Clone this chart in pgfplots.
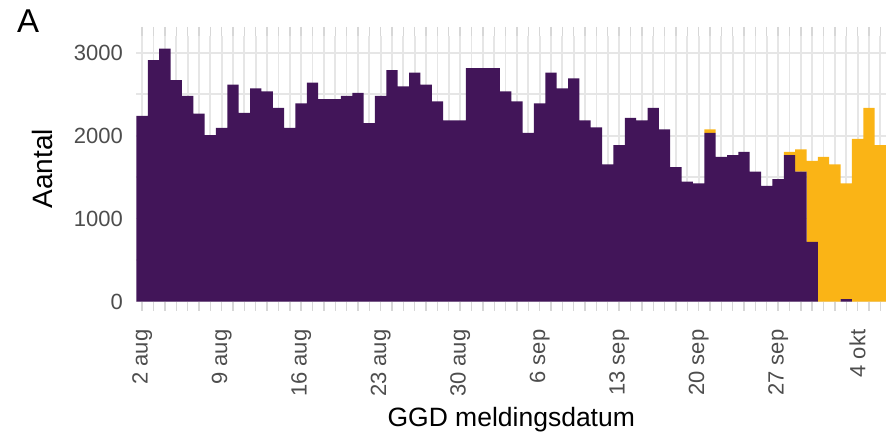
\documentclass[border=0pt]{standalone}
\usepackage{fontspec}
\setmainfont{Liberation Sans}
\usepackage{pgfplots}
\pgfplotsset{compat=1.18}
\usepackage{pgfplotstable}
\definecolor{dpurple}{RGB}{66,21,89}
\definecolor{dyellow}{RGB}{250,180,22}
\definecolor{tickgray}{RGB}{77,77,77}
\definecolor{gridgray}{RGB}{230,230,230}
\definecolor{tickmark}{RGB}{215,215,215}

% day 0 = 2 aug ... day 65 = 6 okt
\pgfplotstableread{
day purple yellow
0 2240 0
1 2910 0
2 3050 0
3 2670 0
4 2480 0
5 2265 0
6 2005 0
7 2095 0
8 2615 0
9 2275 0
10 2570 0
11 2535 0
12 2335 0
13 2095 0
14 2390 0
15 2640 0
16 2440 0
17 2440 0
18 2480 0
19 2515 0
20 2150 0
21 2480 0
22 2790 0
23 2595 0
24 2760 0
25 2615 0
26 2415 0
27 2185 0
28 2185 0
29 2815 0
30 2815 0
31 2815 0
32 2535 0
33 2415 0
34 2035 0
35 2390 0
36 2760 0
37 2570 0
38 2690 0
39 2185 0
40 2100 0
41 1655 0
42 1885 0
43 2215 0
44 2185 0
45 2335 0
46 2075 0
47 1620 0
48 1445 0
49 1425 0
50 2035 40
51 1745 0
52 1765 0
53 1805 0
54 1565 0
55 1395 0
56 1475 0
57 1765 40
58 1565 270
59 720 975
60 0 1745
61 0 1655
62 30 1395
63 0 1960
64 0 2335
65 0 1885
}\datatable

\begin{document}
\begin{tikzpicture}
\begin{axis}[
  scale only axis,
  width=749.5bp, height=265.5bp,
  at={(0,0)}, anchor=south west,
  xmin=-0.5, xmax=65.5,
  ymin=0, ymax=3202,
  enlargelimits=false,
  ybar stacked,
  bar width=1,
  axis line style={draw=none},
  xtick={0,7,14,21,28,35,42,49,56,63},
  xticklabels={2 aug,9 aug,16 aug,23 aug,30 aug,6 sep,13 sep,20 sep,27 sep,4 okt},
  minor xtick={0,...,65},
  ytick={0,1000,2000,3000},
  minor ytick={500,1500,2500},
  grid=both,
  major grid style={gridgray, line width=1.8bp},
  minor grid style={gridgray, line width=1.8bp},
  xtick align=outside,
  major tick length=9bp,
  minor tick length=9bp,
  xtick style={tickmark, line width=1.4bp},
  ytick style={draw=none},
  /pgf/number format/assume math mode=true,
  /pgf/number format/1000 sep={},
  ticklabel style={font=\fontsize{22bp}{26bp}\selectfont, text=tickgray},
  xticklabel style={rotate=90, anchor=east, inner sep=0pt, xshift=-19bp},
  yticklabel style={anchor=east, inner sep=0pt, xshift=-13.5bp},
  xlabel={GGD meldingsdatum},
  ylabel={Aantal},
  xlabel style={font=\fontsize{26.5bp}{30bp}\selectfont, at={(axis description cs:0.5,-0.4708)}, anchor=base, inner sep=0pt},
  ylabel style={font=\fontsize{28bp}{32bp}\selectfont, at={(axis description cs:-0.11141,0.5)}, anchor=base, inner sep=0pt},
]
\addplot[fill=dpurple, draw=none] table[x=day, y=purple] {\datatable};
\addplot[fill=dyellow, draw=none] table[x=day, y=yellow] {\datatable};
\end{axis}
\node[anchor=base west, inner sep=0pt, font=\fontsize{33bp}{36bp}\selectfont] at (-119.5bp,268.5bp) {A};
\pgfresetboundingbox
\useasboundingbox (-136.5bp,-133.5bp) rectangle (749.5bp,301.5bp);
\end{tikzpicture}
\end{document}
